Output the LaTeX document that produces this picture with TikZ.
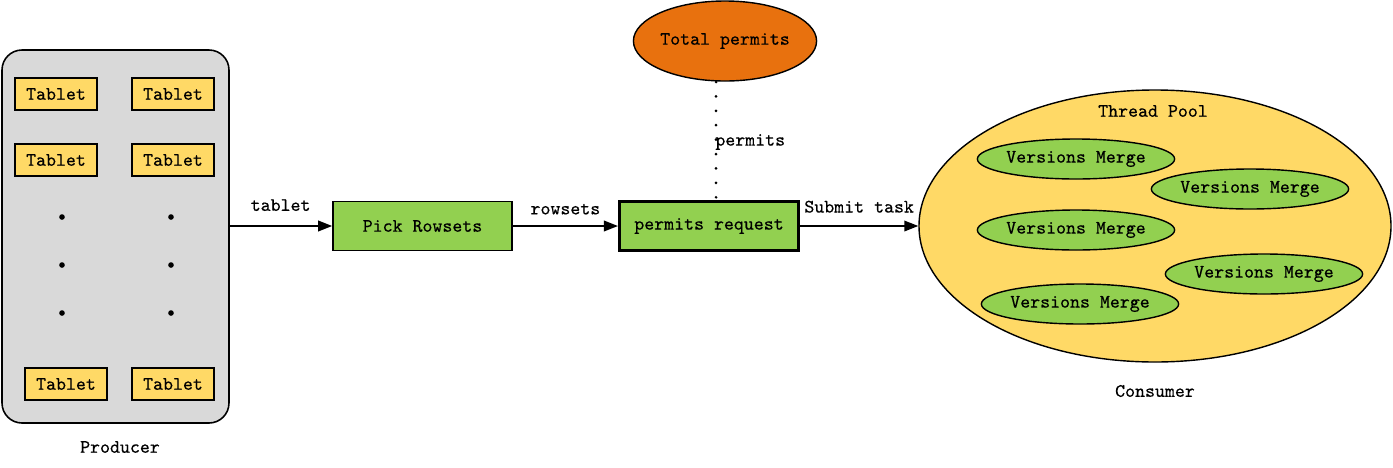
\documentclass[tikz,border=0pt]{standalone}
\usepackage{fontspec}
\newfontfamily\diagfont{Latin Modern Mono}[FakeBold=0.4]
\usetikzlibrary{arrows.meta,shapes.geometric}

\definecolor{prodgray}{HTML}{D9D9D9}
\definecolor{tabyellow}{HTML}{FFD966}
\definecolor{stepgreen}{HTML}{92D050}
\definecolor{permorange}{HTML}{E8710E}

\tikzset{
  tabletbox/.style={rectangle,draw=black,line width=0.8pt,fill=tabyellow,minimum width=82*0.02cm,minimum height=32*0.02cm,inner sep=0pt},
  stagebox/.style={rectangle,draw=black,line width=0.9pt,fill=stepgreen,minimum width=179*0.02cm,minimum height=49*0.02cm,inner sep=0pt},
  mergeell/.style={ellipse,draw=black,line width=0.8pt,fill=stepgreen,minimum width=194*0.02cm,minimum height=40*0.02cm,inner sep=0pt},
  flow/.style={line width=1.1pt,-{Triangle[length=8pt,width=6pt]}},
  lbl/.style={inner sep=0pt}
}

\begin{document}
\begin{tikzpicture}[x=0.02cm,y=-0.02cm,font=\diagfont\fontsize{10.8}{12}\selectfont]
\useasboundingbox (0,0) rectangle (1393,467);

% producer
\draw[line width=0.9pt,fill=prodgray,rounded corners=0.4cm] (2,50) rectangle (229,423);
\node[tabletbox] (t1) at (56,94)   {Tablet};
\node[tabletbox] (t2) at (173,94)  {Tablet};
\node[tabletbox] (t3) at (56,160)  {Tablet};
\node[tabletbox] (t4) at (173,160) {Tablet};
\node[tabletbox] (t5) at (66,384)  {Tablet};
\node[tabletbox] (t6) at (173,384) {Tablet};
\foreach \y in {217,265,313}{
  \fill (62,\y) circle(1.6pt);
  \fill (171,\y) circle(1.6pt);
}
\node[lbl] (producer) at (120,447) {Producer};
\coordinate (prodout) at (229,226);

% pipeline
\node[stagebox] (pick) at (422.5,226) {Pick Rowsets};
\node[stagebox,line width=1.7pt] (req) at (709,226) {permits request};
\node[ellipse,draw=black,line width=0.8pt,fill=permorange,minimum width=178*0.02cm,minimum height=80*0.02cm,inner sep=0pt] (total) at (725,41) {Total permits};

\draw[flow] (prodout) -- node[lbl,above=8pt] {tablet} (pick);
\draw[flow] (pick) -- node[lbl,above=6pt] {rowsets} (req);
\draw[line width=1.7pt,dash pattern=on 0pt off 8.2pt,line cap=round] (716,82) -- (716,200);
\node[lbl,anchor=west] (permits) at (715,142) {permits};

% consumer
\node[ellipse,draw=black,line width=0.8pt,fill=tabyellow,minimum width=472*0.02cm,minimum height=272*0.02cm,inner sep=0pt] (pool) at (1155,226) {};
\node[lbl] (poollbl) at (1153,111) {Thread Pool};
\node[mergeell] (m1) at (1076,159) {Versions Merge};
\node[mergeell] (m2) at (1250,189) {Versions Merge};
\node[mergeell] (m3) at (1076,230) {Versions Merge};
\node[mergeell] (m4) at (1264,274) {Versions Merge};
\node[mergeell] (m5) at (1080,304) {Versions Merge};
\node[lbl] (consumer) at (1155,391) {Consumer};

\draw[flow] (req) -- node[lbl,above=7pt] {Submit task} (pool.west);

\end{tikzpicture}
\end{document}
